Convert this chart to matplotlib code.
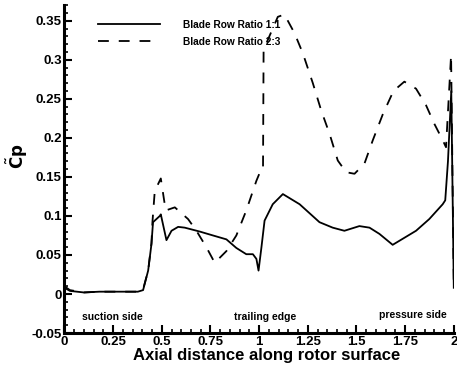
import matplotlib
matplotlib.use("Agg")
import matplotlib.pyplot as plt
from matplotlib.ticker import MultipleLocator, FixedLocator

# Blade Row Ratio 1:1 (solid)
x_11 = [0.0, 0.028, 0.10, 0.18, 0.30, 0.377, 0.404, 0.43, 0.447, 0.455, 0.49, 0.495,
        0.524, 0.55, 0.584, 0.618, 0.695, 0.763, 0.832, 0.883, 0.934, 0.968, 0.986,
        0.997, 1.012, 1.028, 1.07, 1.122, 1.208, 1.31, 1.378, 1.438, 1.515, 1.567,
        1.618, 1.686, 1.806, 1.874, 1.943, 1.956, 1.97, 1.987, 2.0]
y_11 = [0.008, 0.004, 0.002, 0.003, 0.003, 0.003, 0.005, 0.03, 0.064, 0.092, 0.100, 0.102,
        0.069, 0.081, 0.086, 0.085, 0.080, 0.075, 0.070, 0.059, 0.051, 0.051, 0.045,
        0.030, 0.060, 0.094, 0.115, 0.128, 0.115, 0.092, 0.085, 0.081, 0.087, 0.085,
        0.077, 0.063, 0.081, 0.096, 0.115, 0.12, 0.17, 0.26, 0.008]

# Blade Row Ratio 2:3 (dashed)
x_23 = [0.0, 0.028, 0.10, 0.18, 0.30, 0.377, 0.404, 0.43, 0.447, 0.452, 0.464, 0.495,
        0.52, 0.567, 0.635, 0.678, 0.729, 0.772, 0.832, 0.883, 0.934, 0.986, 1.011,
        1.02, 1.023, 1.096, 1.13, 1.182, 1.225, 1.276, 1.319, 1.362, 1.404, 1.447,
        1.49, 1.541, 1.584, 1.635, 1.69, 1.746, 1.806, 1.857, 1.9, 1.943,
        1.96, 1.986, 2.0]
y_23 = [0.010, 0.005, 0.002, 0.003, 0.003, 0.003, 0.006, 0.03, 0.065, 0.092, 0.132, 0.148,
        0.107, 0.111, 0.096, 0.081, 0.060, 0.040, 0.055, 0.075, 0.107, 0.145, 0.160,
        0.160, 0.313, 0.355, 0.358, 0.334, 0.308, 0.270, 0.235, 0.205, 0.171, 0.156,
        0.154, 0.167, 0.197, 0.230, 0.260, 0.272, 0.263, 0.242, 0.218, 0.197,
        0.188, 0.306, 0.01]

x_ticks = [0, 0.25, 0.5, 0.75, 1, 1.25, 1.5, 1.75, 2]
x_ticklabels = ["0", "0.25", "0.5", "0.75", "1", "1.25", "1.5", "1.75", "2"]
y_ticks = [-0.05, 0, 0.05, 0.1, 0.15, 0.2, 0.25, 0.3, 0.35]
y_ticklabels = ["-0.05", "0", "0.05", "0.1", "0.15", "0.2", "0.25", "0.3", "0.35"]
legend_labels = ["Blade Row Ratio 1:1", "Blade Row Ratio 2:3"]
annotations = [("suction side", 0.245, -0.030), ("trailing edge", 1.03, -0.030),
               ("pressure side", 1.79, -0.027)]

plt.rcParams['font.family'] = ['Liberation Sans', 'DejaVu Sans']
plt.rcParams['font.weight'] = 'bold'

fig = plt.figure(figsize=(4.57, 3.66), dpi=100)
ax = fig.add_axes([0.141, 0.090, 0.852, 0.896])

ax.plot(x_11, y_11, color='black', lw=1.3, label=legend_labels[0])
ax.plot(x_23, y_23, color='black', lw=1.3, dashes=(6, 5.5), label=legend_labels[1])

ax.set_xlim(0, 2)
ax.set_ylim(-0.05, 0.37)

for s in ['top', 'right']:
    ax.spines[s].set_visible(False)
for s in ['left', 'bottom']:
    ax.spines[s].set_linewidth(2.2)

ax.xaxis.set_major_locator(FixedLocator(x_ticks))
ax.set_xticklabels(x_ticklabels)
ax.yaxis.set_major_locator(FixedLocator(y_ticks))
ax.set_yticklabels(y_ticklabels)
ax.xaxis.set_minor_locator(MultipleLocator(0.05))
ax.yaxis.set_minor_locator(MultipleLocator(0.01))
ax.tick_params(which='major', direction='in', length=6, width=1.5, labelsize=9.5, pad=2)
ax.tick_params(which='minor', direction='in', length=3, width=1.2)
for lab in ax.get_xticklabels() + ax.get_yticklabels():
    lab.set_fontweight('bold')

ax.set_xlabel("Axial distance along rotor surface", fontsize=12, fontweight='bold', labelpad=0)
ax.xaxis.set_label_coords(0.519, -0.047)
ax.set_ylabel(r"$\mathbf{\tilde{C}p}$", fontsize=12, labelpad=2)
ax.yaxis.set_label_coords(-0.088, 0.54)

for txt, xx, yy in annotations:
    ax.text(xx, yy, txt, fontsize=7.5, fontweight='bold', ha='center', va='center')

leg = ax.legend(loc='upper left', bbox_to_anchor=(0.085, 0.955), frameon=False,
                fontsize=7.3, handlelength=6.2, handletextpad=2.2, labelspacing=0.7,
                borderpad=0, borderaxespad=0)
for t in leg.get_texts():
    t.set_fontweight('bold')

fig.savefig("out.png", dpi=100)
